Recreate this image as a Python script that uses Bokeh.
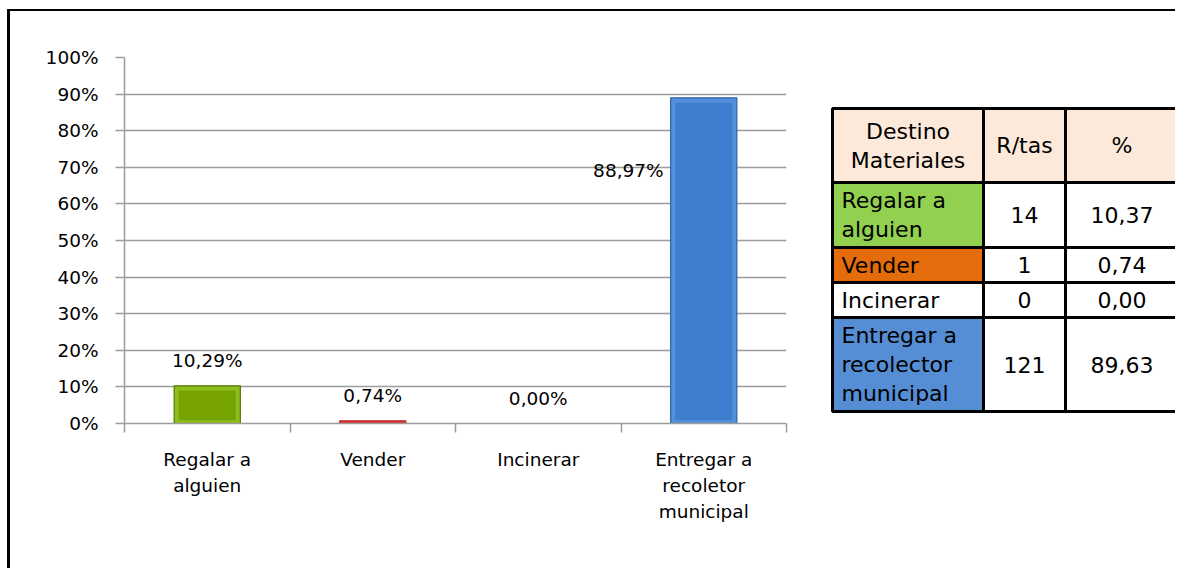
from bokeh.plotting import figure
from bokeh.models import Range1d, FixedTicker, LinearAxis, Grid
from bokeh.layouts import row
from bokeh.core.properties import value
from bokeh.embed import file_html
from bokeh.resources import INLINE

# ---------------- data ----------------
categories = ["Regalar a\nalguien", "Vender", "Incinerar", "Entregar a\nrecoletor\nmunicipal"]
percent_values = [10.29, 0.74, 0.00, 88.97]
bar_labels = ["10,29%", "0,74%", "0,00%", "88,97%"]
y_ticks = [0, 10, 20, 30, 40, 50, 60, 70, 80, 90, 100]

table_header = ["Destino\nMateriales", "R/tas", "%"]
table_rows = ["Regalar a\nalguien", "Vender", "Incinerar", "Entregar a\nrecolector\nmunicipal"]
table_counts = ["14", "1", "0", "121"]
table_pcts = ["10,37", "0,74", "0,00", "89,63"]

# ---------------- styles ----------------
bar_edge = ["#8BBE1E", "#E0342E", "#A0A0A0", "#5590DA"]
bar_fill = ["#76A300", "#E0342E", "#A0A0A0", "#3F7ECE"]
bar_line = ["#557A00", "#C02828", "#808080", "#2D62A8"]
row_fill = ["#92D050", "#E46C0A", "#FFFFFF", "#558ED5"]
header_fill = "#FDE9D9"
grid_col = "#9C9C9C"
FONT = "DejaVu Sans"
FS = "18.5px"
TFONT = "DejaVu Sans"

ML, MT = 7, 9           # outer offset of the bordered block
BL, BT = 3, 2           # border widths
PW, PH = 809, 557

# ---------------- chart ----------------
n = len(categories)
xc = [i + 0.5 for i in range(n)]
bw = 0.4

p = figure(width=PW, height=PH, output_backend="svg", toolbar_location=None,
           x_range=Range1d(0, n), y_range=Range1d(0, 100),
           min_border_left=114, min_border_right=33, min_border_top=46, min_border_bottom=145,
           x_axis_type=None, y_axis_type=None)
p.outline_line_color = None
p.background_fill_color = "white"
p.border_fill_color = "white"

yax = LinearAxis(ticker=FixedTicker(ticks=y_ticks, minor_ticks=[]))
yax.major_label_overrides = {t: f"{t}%" for t in y_ticks}
yax.major_label_text_font = FONT
yax.major_label_text_font_size = FS
yax.major_label_text_color = "black"
yax.major_tick_out = 9
yax.major_tick_in = 0
yax.major_tick_line_color = grid_col
yax.major_tick_line_width = 1.5
yax.axis_line_color = grid_col
yax.axis_line_width = 1.5
yax.major_label_standoff = 17
p.add_layout(yax, "left")

xax = LinearAxis(ticker=FixedTicker(ticks=xc, minor_ticks=list(range(n + 1))))
xax.major_label_overrides = {x: c for x, c in zip(xc, categories)}
xax.major_label_text_font = FONT
xax.major_label_text_font_size = FS
xax.major_label_text_color = "black"
xax.major_label_text_line_height = 1.24
xax.major_tick_line_color = None
xax.major_tick_out = 0
xax.major_tick_in = 0
xax.minor_tick_out = 9
xax.minor_tick_in = 0
xax.minor_tick_line_color = grid_col
xax.minor_tick_line_width = 1.5
xax.axis_line_color = grid_col
xax.axis_line_width = 1.5
xax.major_label_standoff = 16
p.add_layout(xax, "below")

p.xgrid.visible = False
p.ygrid.visible = False
p.add_layout(Grid(dimension=1, ticker=FixedTicker(ticks=y_ticks), grid_line_color=grid_col,
                  grid_line_width=1.5))

# bar body (bevel colour) and inner face
p.vbar(x=xc, top=percent_values, width=bw, fill_color=bar_edge, line_color=bar_line, line_width=1.2)
inset_x = 0.028
inset_y = 1.3
big = [i for i, v in enumerate(percent_values) if v > 2 * inset_y]
p.vbar(x=[xc[i] for i in big], top=[percent_values[i] - inset_y for i in big],
       bottom=[inset_y * 0.7 for i in big], width=bw - 2 * inset_x,
       fill_color=[bar_fill[i] for i in big], line_color=None)

# labels for first three bars above the bar
p.text(x=xc[:3], y=percent_values[:3], text=bar_labels[:3], text_align="center",
       text_baseline="middle", y_offset=-25, text_font=value(FONT), text_font_size=FS,
       text_color="black")
# last label sits to the left of the tall bar
p.text(x=[xc[3] - bw / 2], y=[percent_values[3]], text=[bar_labels[3]], text_align="right",
       text_baseline="middle", x_offset=-7, y_offset=73, text_font=value(FONT),
       text_font_size=FS, text_color="black")

# ---------------- table (drawn in page pixel units) ----------------
TW = 356
x0 = ML + BL + PW
frame_top = MT + BT + 46
frame_bot = MT + BT + PH - 145
t = figure(width=TW, height=PH, output_backend="svg", toolbar_location=None,
           x_range=Range1d(x0, x0 + TW), y_range=Range1d(frame_bot, frame_top),
           min_border_left=0, min_border_right=0, min_border_top=46, min_border_bottom=145,
           x_axis_type=None, y_axis_type=None)
t.outline_line_color = None
t.grid.visible = False
t.background_fill_color = "white"
t.border_fill_color = "white"

col_edges = [832, 983, 1065, 1185]
row_edges = [108, 182, 247, 282, 317, 411]

lefts, rights, tops, bottoms, fills = [], [], [], [], []
for r in range(len(row_edges) - 1):
    for c in range(3):
        lefts.append(col_edges[c]); rights.append(col_edges[c + 1])
        tops.append(row_edges[r]); bottoms.append(row_edges[r + 1])
        if r == 0:
            fills.append(header_fill)
        elif c == 0:
            fills.append(row_fill[r - 1])
        else:
            fills.append("#FFFFFF")
t.quad(left=lefts, right=rights, top=tops, bottom=bottoms, fill_color=fills,
       line_color="black", line_width=3)

TF = "22px"
LH = 1.16
cc = [(col_edges[0] + col_edges[1]) / 2, (col_edges[1] + col_edges[2]) / 2, 1121.5]
rc = [(row_edges[i] + row_edges[i + 1]) / 2 for i in range(len(row_edges) - 1)]

t.text(x=cc, y=[rc[0]] * 3, text=table_header, text_align="center", text_baseline="middle",
       text_font=value(TFONT), text_font_size=TF, text_line_height=LH, text_color="black")
t.text(x=[col_edges[0] + 9] * 4, y=rc[1:], text=table_rows, text_align="left",
       text_baseline="middle", text_font=value(TFONT), text_font_size=TF,
       text_line_height=LH, text_color="black")
t.text(x=[cc[1]] * 4, y=rc[1:], text=table_counts, text_align="center", text_baseline="middle",
       text_font=value(TFONT), text_font_size=TF, text_color="black")
t.text(x=[cc[2]] * 4, y=rc[1:], text=table_pcts, text_align="center", text_baseline="middle",
       text_font=value(TFONT), text_font_size=TF, text_color="black")

layout = row(p, t, styles={"border-left": f"{BL}px solid black", "border-top": f"{BT}px solid black",
                           "margin-left": f"{ML}px", "margin-top": f"{MT}px"})

open("out.html", "w").write(file_html(layout, INLINE))
